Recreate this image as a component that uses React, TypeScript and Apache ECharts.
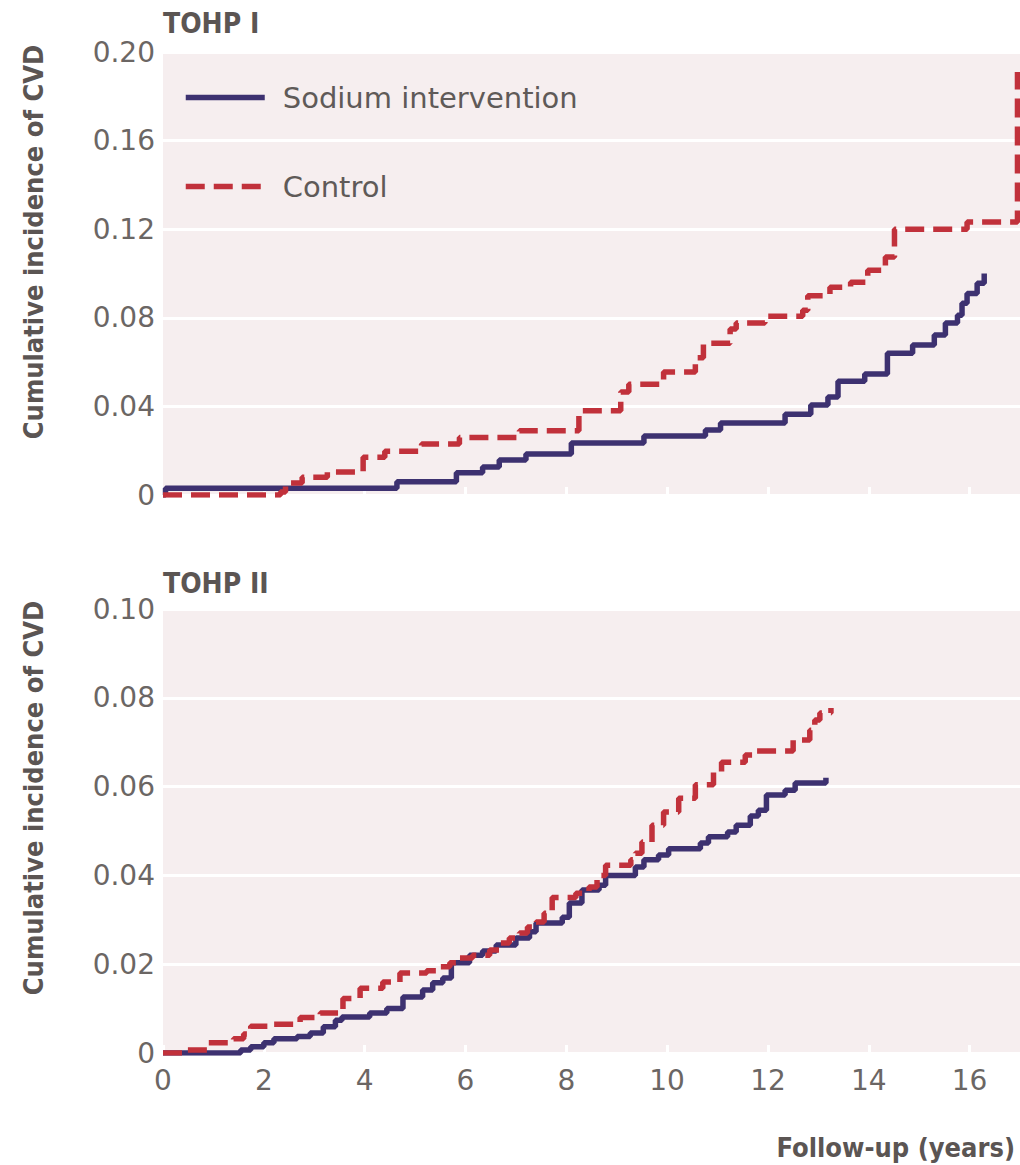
import React, { useEffect, useRef } from "react";
import * as echarts from "echarts";

// ---- data (years, cumulative incidence) ----
const tohp1Sodium: [number, number][] = [
  [0, 0], [0.05, 0.003], [4.64, 0.006], [5.82, 0.010], [6.34, 0.0126], [6.67, 0.0158],
  [7.2, 0.0185], [8.1, 0.0235], [9.54, 0.0266], [10.76, 0.0293], [11.06, 0.0325],
  [12.34, 0.0365], [12.85, 0.0406], [13.19, 0.0442], [13.39, 0.0514], [13.92, 0.0546],
  [14.37, 0.064], [14.87, 0.0677], [15.3, 0.0722], [15.52, 0.0776], [15.76, 0.0812],
  [15.85, 0.0866], [15.95, 0.091], [16.15, 0.0956], [16.29, 0.100],
];
const tohp1Control: [number, number][] = [
  [0, 0], [2.33, 0.0014], [2.43, 0.0054], [2.76, 0.008], [3.26, 0.0104], [3.97, 0.017],
  [4.4, 0.0198], [5.13, 0.023], [5.88, 0.026], [7.07, 0.029], [8.25, 0.038], [9.08, 0.0465],
  [9.24, 0.050], [9.93, 0.0555], [10.56, 0.062], [10.72, 0.0685], [11.25, 0.075],
  [11.37, 0.0776], [11.94, 0.0807], [12.69, 0.0834], [12.79, 0.090], [13.23, 0.0938],
  [13.64, 0.096], [13.98, 0.1015], [14.33, 0.1074], [14.51, 0.120], [15.95, 0.1232],
  [16.95, 0.191],
];
const tohp2Sodium: [number, number][] = [
  [0, 0], [1.54, 0.0007], [1.74, 0.0014], [2.0, 0.0023], [2.2, 0.0032], [2.66, 0.0037],
  [2.92, 0.0045], [3.18, 0.0059], [3.42, 0.0074], [3.55, 0.0081], [4.1, 0.009], [4.44, 0.010],
  [4.76, 0.0126], [5.15, 0.0142], [5.35, 0.0158], [5.55, 0.0169], [5.72, 0.0203], [6.08, 0.022],
  [6.34, 0.023], [6.61, 0.0243], [7.0, 0.0259], [7.27, 0.0273], [7.4, 0.0293], [7.92, 0.0306],
  [8.06, 0.0338], [8.31, 0.0367], [8.65, 0.0378], [8.78, 0.040], [9.37, 0.0419], [9.54, 0.0435],
  [9.83, 0.0446], [10.03, 0.046], [10.66, 0.0473], [10.82, 0.0487], [11.2, 0.0498],
  [11.37, 0.0513], [11.65, 0.0534], [11.81, 0.0547], [11.97, 0.0581], [12.34, 0.0592],
  [12.54, 0.0608], [13.15, 0.062],
];
const tohp2Control: [number, number][] = [
  [0, 0], [0.42, 0.0007], [0.89, 0.0023], [1.4, 0.0032], [1.6, 0.0043], [1.74, 0.006],
  [2.2, 0.0065], [2.72, 0.008], [3.12, 0.009], [3.57, 0.0123], [3.91, 0.0146], [4.36, 0.016],
  [4.7, 0.018], [5.23, 0.0185], [5.43, 0.0194], [5.69, 0.0203], [5.88, 0.0214], [6.14, 0.022],
  [6.48, 0.0232], [6.67, 0.0248], [6.87, 0.0259], [7.07, 0.027], [7.23, 0.0284], [7.4, 0.0295],
  [7.56, 0.0315], [7.72, 0.035], [8.19, 0.036], [8.45, 0.0374], [8.61, 0.040], [8.78, 0.0423],
  [9.28, 0.0435], [9.37, 0.045], [9.5, 0.0475], [9.7, 0.0513], [9.93, 0.0543], [10.23, 0.0574],
  [10.56, 0.0604], [10.92, 0.0633], [11.08, 0.0655], [11.55, 0.0671], [11.75, 0.068],
  [12.5, 0.0705], [12.83, 0.0727], [12.93, 0.075], [13.03, 0.0766], [13.25, 0.0777],
];
const xTicks = [0, 2, 4, 6, 8, 10, 12, 14, 16];
const yTicksTop = [0, 0.04, 0.08, 0.12, 0.16, 0.2];
const yTicksBottom = [0, 0.02, 0.04, 0.06, 0.08, 0.1];
const seriesNames = ["Sodium intervention", "Control"];
const panelTitles = ["TOHP I", "TOHP II"];
const yTitle = "Cumulative incidence of CVD";
const xTitle = "Follow-up (years)";

const SODIUM = "#3d3170";
const CONTROL = "#c1313b";
const BG = "#f6eeef";
const TICK_COLOR = "#6b6664";
const TITLE_COLOR = "#5b5553";
const FONT = "DejaVu Sans";
const BOLD_FONT = "'DejaVu Sans Condensed', 'DejaVu Sans'";
const LINE_W = 5.5;
const DASH = [19, 9];

export default function App() {
  const ref = useRef<HTMLDivElement>(null);
  useEffect(() => {
    if (!ref.current) return;
    const chart = echarts.init(ref.current, undefined, { renderer: "svg" });
    const fmtY = (v: number) => (v === 0 ? "0" : v.toFixed(2));
    const xAxisBase = (gridIndex: number, showLabels: boolean) => ({
      type: "value",
      gridIndex,
      min: 0,
      max: 17,
      interval: 2,
      axisLine: { show: false },
      splitLine: { show: false },
      axisTick: {
        show: true,
        inside: true,
        length: 8,
        customValues: xTicks,
        lineStyle: { color: "#ffffff", width: 3 },
      },
      axisLabel: {
        show: showLabels,
        customValues: xTicks,
        margin: 13,
        fontSize: 28,
        fontFamily: FONT,
        color: TICK_COLOR,
        formatter: (v: number) => String(v),
      },
    });
    const yAxisBase = (gridIndex: number, max: number, interval: number, ticks: number[]) => ({
      type: "value",
      gridIndex,
      min: 0,
      max,
      interval,
      axisLine: { show: false },
      axisTick: { show: false },
      splitLine: { show: true, lineStyle: { color: "#ffffff", width: 3 } },
      axisLabel: {
        customValues: ticks,
        margin: 8,
        fontSize: 28,
        fontFamily: FONT,
        color: TICK_COLOR,
        formatter: fmtY,
      },
    });
    const lineSeries = (name: string, data: [number, number][], idx: number, dashed: boolean) => ({
      type: "line",
      name,
      xAxisIndex: idx,
      yAxisIndex: idx,
      data,
      step: "end",
      symbol: "none",
      lineStyle: {
        color: dashed ? CONTROL : SODIUM,
        width: LINE_W,
        type: dashed ? DASH : "solid",
      },
      itemStyle: { color: dashed ? CONTROL : SODIUM },
      z: dashed ? 3 : 2,
    });
    chart.setOption({
      animation: false,
      backgroundColor: "#ffffff",
      grid: [
        { left: 163, top: 52, width: 857, height: 443, show: true, backgroundColor: BG, borderWidth: 0 },
        { left: 163, top: 609, width: 857, height: 444, show: true, backgroundColor: BG, borderWidth: 0 },
      ],
      xAxis: [xAxisBase(0, false), xAxisBase(1, true)],
      yAxis: [
        yAxisBase(0, 0.2, 0.04, yTicksTop),
        yAxisBase(1, 0.1, 0.02, yTicksBottom),
      ],
      legend: {
        data: seriesNames,
        orient: "vertical",
        left: 183,
        top: 83,
        padding: 0,
        itemWidth: 79,
        itemHeight: 28,
        itemGap: 60,
        itemStyle: { opacity: 0 },
        lineStyle: { width: LINE_W },
        textStyle: {
          fontSize: 29,
          fontFamily: FONT,
          color: "#5f5a58",
          padding: [0, 0, 0, 13],
        },
      },
      series: [
        lineSeries(seriesNames[0], tohp1Sodium, 0, false),
        lineSeries(seriesNames[1], tohp1Control, 0, true),
        lineSeries(seriesNames[0], tohp2Sodium, 1, false),
        lineSeries(seriesNames[1], tohp2Control, 1, true),
      ],
      graphic: [
        {
          type: "text",
          x: 163,
          y: 23,
          style: {
            text: panelTitles[0],
            fontSize: 28,
            fontWeight: "bold",
            fontFamily: BOLD_FONT,
            fill: TITLE_COLOR,
            textAlign: "left",
            textVerticalAlign: "middle",
          },
        },
        {
          type: "text",
          x: 163,
          y: 583,
          style: {
            text: panelTitles[1],
            fontSize: 28,
            fontWeight: "bold",
            fontFamily: BOLD_FONT,
            fill: TITLE_COLOR,
            textAlign: "left",
            textVerticalAlign: "middle",
          },
        },
        {
          type: "text",
          x: 33,
          y: 242,
          rotation: Math.PI / 2,
          style: {
            text: yTitle,
            fontSize: 27,
            fontWeight: "bold",
            fontFamily: BOLD_FONT,
            fill: TITLE_COLOR,
            textAlign: "center",
            textVerticalAlign: "middle",
          },
        },
        {
          type: "text",
          x: 33,
          y: 798,
          rotation: Math.PI / 2,
          style: {
            text: yTitle,
            fontSize: 27,
            fontWeight: "bold",
            fontFamily: BOLD_FONT,
            fill: TITLE_COLOR,
            textAlign: "center",
            textVerticalAlign: "middle",
          },
        },
        {
          type: "text",
          x: 1015,
          y: 1147,
          style: {
            text: xTitle,
            fontSize: 27,
            fontWeight: "bold",
            fontFamily: BOLD_FONT,
            fill: TITLE_COLOR,
            textAlign: "right",
            textVerticalAlign: "middle",
          },
        },
      ],
    });
    return () => chart.dispose();
  }, []);
  return (
    <div
      ref={ref}
      style={{ position: "absolute", left: 0, top: 0, width: 1020, height: 1165 }}
    />
  );
}
